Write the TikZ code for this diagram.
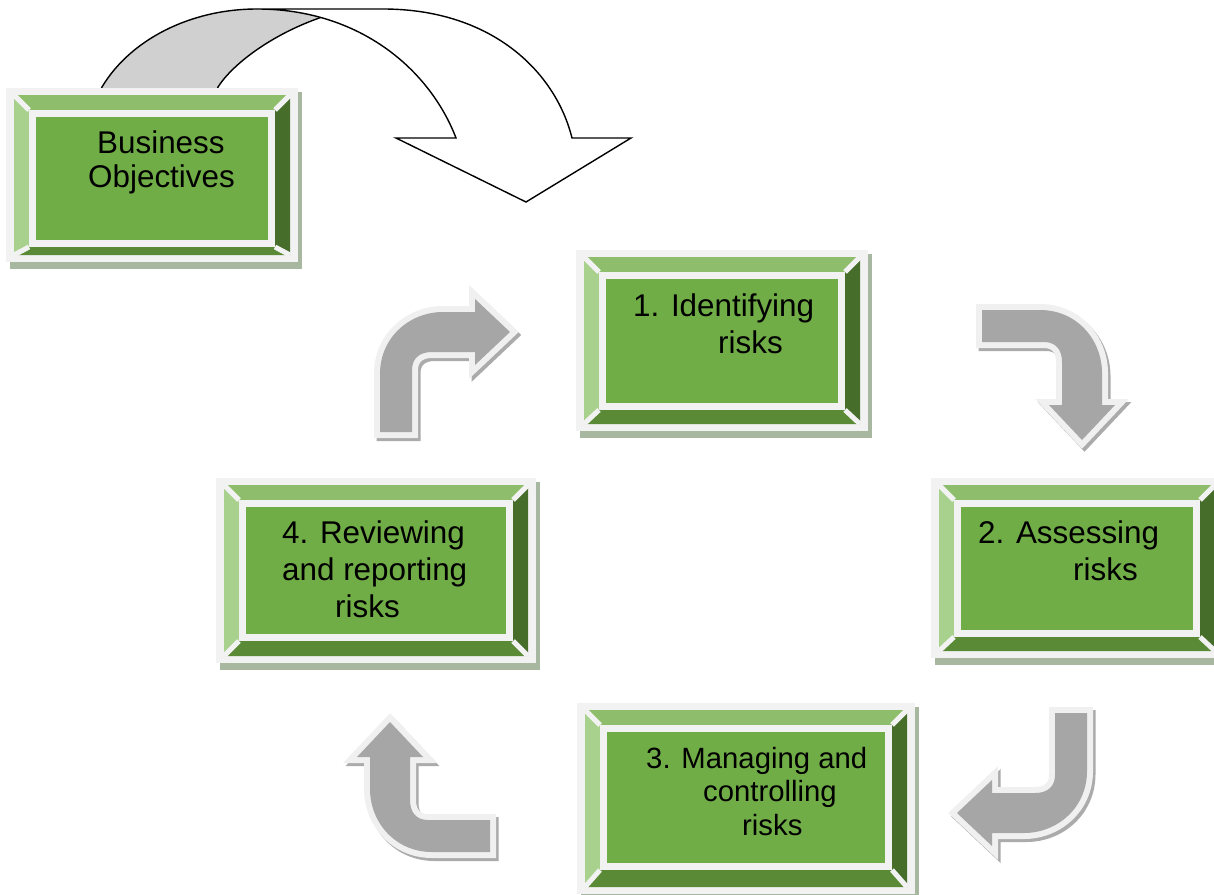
\documentclass[tikz,border=0pt]{standalone}
\usepackage{fontspec}
\setmainfont{Liberation Sans}
\definecolor{framecol}{HTML}{F2F2F2}
\definecolor{bevtop}{HTML}{8EBE6C}
\definecolor{bevleft}{HTML}{A9D18E}
\definecolor{bevright}{HTML}{476D2B}
\definecolor{bevbot}{HTML}{5A8A35}
\definecolor{boxcenter}{HTML}{70AD47}
\definecolor{boxshadow}{HTML}{A8B79F}
\definecolor{arrgray}{HTML}{A6A6A6}
\definecolor{arrlight}{HTML}{F0F0F0}
\definecolor{arrshadow}{HTML}{ABABAB}
\definecolor{backgray}{HTML}{D0D0D0}
\tikzset{
  lbl/.style={anchor=base west, inner sep=0pt, font=\fontsize{31.4}{36}\selectfont},
  lblsmall/.style={anchor=base west, inner sep=0pt, font=\fontsize{29.3}{34}\selectfont},
  bigline/.style={draw=black, line width=1.4pt, line join=miter},
}
% #1 name, #2 cx1, #3 cy1, #4 cx2, #5 cy2, #6 bottom bevel
\newcommand\bevbox[6]{%
  \fill[boxshadow] ({#2-26},{#3-25}) rectangle ({#4+34},{#5+#6+21});
  \fill[framecol] ({#2-30},{#3-29}) rectangle ({#4+30},{#5+#6+14});
  \fill[bevtop] ({#2-22},{#3-22}) -- ({#4+22},{#3-22}) -- ({#4+7},{#3-7}) -- ({#2-7},{#3-7}) -- cycle;
  \fill[bevbot] ({#2-22},{#5+#6+7}) -- ({#4+22},{#5+#6+7}) -- ({#4+7},{#5+7}) -- ({#2-7},{#5+7}) -- cycle;
  \fill[bevleft] ({#2-22},{#3-22}) -- ({#2-7},{#3-7}) -- ({#2-7},{#5+7}) -- ({#2-22},{#5+#6+7}) -- cycle;
  \fill[bevright] ({#4+22},{#3-22}) -- ({#4+7},{#3-7}) -- ({#4+7},{#5+7}) -- ({#4+22},{#5+#6+7}) -- cycle;
  \draw[framecol, line width=5pt] ({#2-22},{#3-22}) -- ({#2-7},{#3-7});
  \draw[framecol, line width=5pt] ({#4+22},{#3-22}) -- ({#4+7},{#3-7});
  \draw[framecol, line width=5pt] ({#2-22},{#5+#6+7}) -- ({#2-7},{#5+7});
  \draw[framecol, line width=5pt] ({#4+22},{#5+#6+7}) -- ({#4+7},{#5+7});
  \fill[framecol] ({#2-7},{#3-7}) rectangle ({#4+7},{#5+7});
  \node[name=#1, inner sep=0pt, fill=boxcenter, minimum width={(#4-#2)*1pt}, minimum height={(#5-#3)*1pt}] at ({(#2+#4)/2},{(#3+#5)/2}) {};
}
\newcommand\arrowpath{(0,0) -- (0,-58) .. controls (0,-95) and (30,-120) .. (63,-120) -- (95,-120) -- (95,-133) -- (130,-100) -- (95,-67) -- (95,-80) -- (52,-80) .. controls (40,-80) and (32,-74) .. (32,-62) -- (32,0) -- cycle}
% #1 x, #2 y, #3 rotation
\newcommand\curvarrow[3]{%
  \begin{scope}[xshift=2.5pt, yshift=-3pt]
    \begin{scope}[shift={(#1,#2)}, rotate=#3]
      \filldraw[draw=arrshadow, fill=arrshadow, line width=12pt, line join=miter] \arrowpath;
    \end{scope}
  \end{scope}
  \begin{scope}[shift={(#1,#2)}, rotate=#3]
    \draw[arrlight, line width=12pt, line join=miter] \arrowpath;
    \fill[arrgray] \arrowpath;
  \end{scope}
}
\begin{document}
\begin{tikzpicture}[x=1pt, y=-1pt]
\useasboundingbox (0,0) rectangle (1214,894);
\clip (0,0) rectangle (1214,894);
\fill[white] (0,0) rectangle (1214,894);

% big curved arrow: back (grey) part
\fill[backgray] (90,115) -- (102,87) .. controls (130,40) and (190,9) .. (257,9) -- (322,9) -- (322,17) .. controls (270,35) and (232,65) .. (218,87) -- (210,115) -- cycle;
\draw[bigline] (90,115) -- (102,87) .. controls (130,40) and (190,9) .. (257,9);
\draw[bigline] (322,17) .. controls (270,35) and (232,65) .. (218,87) -- (210,115);
% big curved arrow: front (white) part
\filldraw[bigline, fill=white] (257,9) -- (383,9) .. controls (490,9) and (555,70) .. (572,138) -- (631,138) -- (526,202) -- (396,138) -- (456,138) .. controls (430,70) and (360,9) .. (257,9) -- cycle;

% boxes
\bevbox{bo}{36}{117}{268}{240}{8}
\bevbox{b1}{606}{279}{838}{403}{14}
\bevbox{b2}{961}{507}{1193}{630}{14}
\bevbox{b3}{607}{732}{885}{863}{17}
\bevbox{b4}{246}{507}{506}{634}{15}

% texts
\node[lbl] (tbo1) at (97,153) {Business};
\node[lbl] (tbo2) at (88,187) {Objectives};
\node[lbl] (t1a) at (633,316) {1. Identifying};
\node[lbl] (t1b) at (718,353) {risks};
\node[lbl] (t2a) at (978,543) {2. Assessing};
\node[lbl] (t2b) at (1073,580) {risks};
\node[lblsmall] (t3a) at (646,768) {3. Managing and};
\node[lblsmall] (t3b) at (703,801) {controlling};
\node[lblsmall] (t3c) at (742,835) {risks};
\node[lbl] (t4a) at (282,543) {4. Reviewing};
\node[lbl] (t4b) at (282,580) {and reporting};
\node[lbl] (t4c) at (335,617) {risks};

% cycle arrows
\curvarrow{380}{432}{0}
\curvarrow{982}{310}{-90}
\curvarrow{1087}{713}{180}
\curvarrow{490}{852}{90}
\end{tikzpicture}
\end{document}
